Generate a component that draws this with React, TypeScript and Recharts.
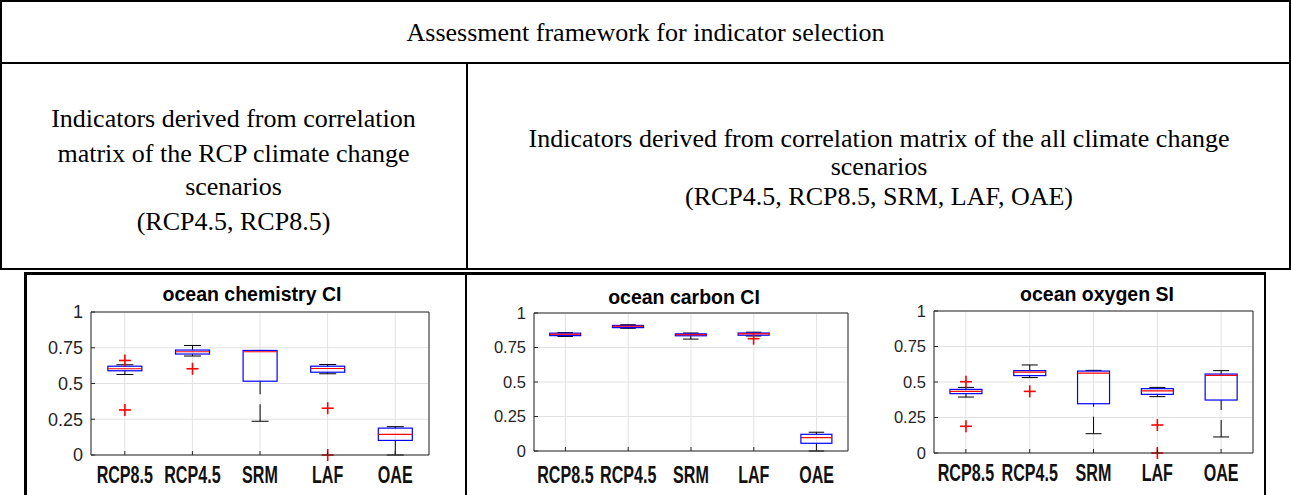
import React from "react";
import { ComposedChart, Bar, XAxis, YAxis, CartesianGrid } from "recharts";

const scenarios = ["RCP8.5", "RCP4.5", "SRM", "LAF", "OAE"];
const yTicks = [0, 0.25, 0.5, 0.75, 1];

// per scenario: [lower whisker, q1, median, q3, upper whisker]
const chemistryStats = [
  [0.563, 0.589, 0.603, 0.621, 0.631],
  [0.692, 0.706, 0.722, 0.734, 0.766],
  [0.236, 0.516, 0.722, 0.731, 0.731],
  [0.568, 0.579, 0.605, 0.621, 0.633],
  [0.0, 0.102, 0.144, 0.188, 0.198],
];
const chemistryOutliers = [[0.661, 0.315], [0.603], [], [0.327, 0.0], []];

const carbonStats = [
  [0.83, 0.836, 0.846, 0.854, 0.858],
  [0.889, 0.894, 0.904, 0.91, 0.915],
  [0.811, 0.835, 0.843, 0.849, 0.855],
  [0.833, 0.839, 0.849, 0.855, 0.861],
  [0.0, 0.056, 0.097, 0.121, 0.136],
];
const carbonOutliers = [[], [], [], [0.814], []];

const oxygenStats = [
  [0.394, 0.418, 0.434, 0.448, 0.462],
  [0.531, 0.545, 0.57, 0.58, 0.62],
  [0.136, 0.347, 0.563, 0.577, 0.582],
  [0.397, 0.413, 0.437, 0.453, 0.462],
  [0.113, 0.373, 0.547, 0.556, 0.58],
];
const oxygenOutliers = [[0.502, 0.188], [0.434], [], [0.197, 0.0], []];

const SANS = "'Liberation Sans', Arial, Helvetica, sans-serif";
const SERIF = "'Liberation Serif', 'Times New Roman', serif";
const AXIS = "#262626";

function toRows(stats: number[][], outliers: number[][]) {
  return scenarios.map((name, i) => ({
    name,
    lo: stats[i][0],
    q1: stats[i][1],
    med: stats[i][2],
    q3: stats[i][3],
    hi: stats[i][4],
    out: outliers[i],
  }));
}

// the bar spans lower..upper whisker, everything else is placed along that span
function BoxShape(props: any) {
  const { x, y, width, height, payload } = props;
  if (!payload || height == null) return null;
  const { lo, q1, med, q3, hi, out } = payload;
  const top = Math.min(y, y + height);
  const bottom = Math.max(y, y + height);
  const py = (v: number) => bottom + ((top - bottom) * (v - lo)) / (hi - lo);
  const cx = x + width / 2;
  const cap = width / 4;
  return (
    <g>
      <line x1={cx} x2={cx} y1={py(hi)} y2={py(q3)} stroke="#000" strokeDasharray="17 10" />
      <line x1={cx} x2={cx} y1={py(lo)} y2={py(q1)} stroke="#000" strokeDasharray="17 10" />
      <line x1={cx - cap} x2={cx + cap} y1={py(hi)} y2={py(hi)} stroke="#000" />
      <line x1={cx - cap} x2={cx + cap} y1={py(lo)} y2={py(lo)} stroke="#000" />
      <rect x={x} y={py(q3)} width={width} height={py(q1) - py(q3)} fill="none" stroke="#0000ff" strokeWidth={1.2} />
      <line x1={x} x2={x + width} y1={py(med)} y2={py(med)} stroke="#ff0000" strokeWidth={1.2} />
      {out.map((v: number, i: number) => (
        <g key={i} stroke="#ff0000" strokeWidth={1.6}>
          <line x1={cx - 6} x2={cx + 6} y1={py(v)} y2={py(v)} />
          <line x1={cx} x2={cx} y1={py(v) - 6} y2={py(v) + 6} />
        </g>
      ))}
    </g>
  );
}

function ScenarioTick(props: any) {
  const { x, y, payload, base } = props;
  return (
    <text
      transform={`translate(${x},${y + base}) scale(0.7,1)`}
      textAnchor="middle"
      fontFamily={SANS}
      fontWeight="bold"
      fontSize={23}
      fill="#111"
    >
      {payload.value}
    </text>
  );
}

interface PanelProps {
  rows: ReturnType<typeof toRows>;
  left: number;
  top: number;
  width: number;
  height: number;
  margin: { top: number; right: number; bottom: number; left: number };
  yFont: number;
  labelBase: number;
}

function BoxPanel({ rows, left, top, width, height, margin, yFont, labelBase }: PanelProps) {
  return (
    <div style={{ position: "absolute", left, top }}>
      <ComposedChart width={width} height={height} data={rows} margin={margin} barCategoryGap="25%">
        <CartesianGrid stroke="#e2e2e2" />
        <XAxis
          dataKey="name"
          height={30}
          interval={0}
          tickSize={-4}
          tickMargin={4}
          axisLine={{ stroke: AXIS }}
          tickLine={{ stroke: AXIS }}
          tick={(p: any) => <ScenarioTick {...p} base={labelBase} />}
        />
        <XAxis
          xAxisId="top"
          orientation="top"
          dataKey="name"
          height={1}
          interval={0}
          tickSize={-4}
          tick={false}
          axisLine={{ stroke: AXIS }}
          tickLine={{ stroke: AXIS }}
        />
        <YAxis
          domain={[0, 1]}
          ticks={yTicks}
          width={50}
          tickSize={-4}
          tickMargin={12}
          axisLine={{ stroke: AXIS }}
          tickLine={{ stroke: AXIS }}
          tick={{ fill: AXIS, fontSize: yFont, fontFamily: SANS }}
        />
        <YAxis
          yAxisId="right"
          orientation="right"
          domain={[0, 1]}
          ticks={yTicks}
          allowDataOverflow
          width={1}
          tickSize={-4}
          tick={false}
          axisLine={{ stroke: AXIS }}
          tickLine={{ stroke: AXIS }}
        />
        <Bar
          dataKey={(d: any) => [d.lo, d.hi]}
          shape={(p: any) => <BoxShape {...p} />}
          isAnimationActive={false}
        />
      </ComposedChart>
    </div>
  );
}

function Line({ l, t, w, h }: { l: number; t: number; w: number; h: number }) {
  return <div style={{ position: "absolute", left: l, top: t, width: w, height: h, background: "#000" }} />;
}

function TableText({ l, t, w, text }: { l: number; t: number; w: number; text: string }) {
  return (
    <div
      style={{
        position: "absolute",
        left: l,
        top: t,
        width: w,
        textAlign: "center",
        fontFamily: SERIF,
        fontSize: 26,
        lineHeight: "30px",
        color: "#000",
        whiteSpace: "nowrap",
      }}
    >
      {text}
    </div>
  );
}

function Title({ cx, t, text }: { cx: number; t: number; text: string }) {
  return (
    <div
      style={{
        position: "absolute",
        left: cx - 150,
        top: t,
        width: 300,
        textAlign: "center",
        fontFamily: SANS,
        fontWeight: "bold",
        fontSize: 19.5,
        lineHeight: "20px",
        color: "#000",
      }}
    >
      {text}
    </div>
  );
}

export default function App() {
  return (
    <div
      style={{
        position: "absolute",
        left: 0,
        top: 0,
        width: 1291,
        height: 495,
        overflow: "hidden",
        background: "#fff",
      }}
    >
      {/* framework table */}
      <Line l={0} t={0} w={1291} h={2} />
      <Line l={0} t={0} w={2} h={270} />
      <Line l={1289} t={0} w={2} h={270} />
      <Line l={0} t={62} w={1291} h={2} />
      <Line l={466} t={63} w={1.5} h={206} />
      <Line l={0} t={268} w={1291} h={2} />
      <TableText l={0} t={18} w={1291} text="Assessment framework for indicator selection" />
      <TableText l={0} t={104} w={467} text="Indicators derived from correlation" />
      <TableText l={0} t={139} w={467} text="matrix of the RCP climate change" />
      <TableText l={0} t={172} w={467} text="scenarios" />
      <TableText l={0} t={207} w={467} text="(RCP4.5, RCP8.5)" />
      <TableText l={467} t={124} w={824} text="Indicators derived from correlation matrix of the all climate change" />
      <TableText l={467} t={152} w={824} text="scenarios" />
      <TableText l={467} t={182} w={824} text="(RCP4.5, RCP8.5, SRM, LAF, OAE)" />

      {/* chart frame */}
      <Line l={24} t={272} w={3} h={230} />
      <Line l={24} t={272} w={1242} h={2.5} />
      <Line l={1264} t={272} w={2} h={230} />
      <Line l={465} t={272} w={2} h={230} />

      <Title cx={252} t={284} text="ocean chemistry CI" />
      <Title cx={684} t={286.5} text="ocean carbon CI" />
      <Title cx={1097} t={284} text="ocean oxygen SI" />

      <BoxPanel
        rows={toRows(chemistryStats, chemistryOutliers)}
        left={25}
        top={273}
        width={441}
        height={222}
        margin={{ top: 38, right: 36, bottom: 10, left: 16 }}
        yFont={18}
        labelBase={28}
      />
      <BoxPanel
        rows={toRows(carbonStats, carbonOutliers)}
        left={467}
        top={273}
        width={400}
        height={222}
        margin={{ top: 39, right: 18, bottom: 14, left: 17 }}
        yFont={16.5}
        labelBase={32}
      />
      <BoxPanel
        rows={toRows(oxygenStats, oxygenOutliers)}
        left={867}
        top={273}
        width={397}
        height={222}
        margin={{ top: 37, right: 10, bottom: 12, left: 17 }}
        yFont={16.5}
        labelBase={28}
      />
    </div>
  );
}
